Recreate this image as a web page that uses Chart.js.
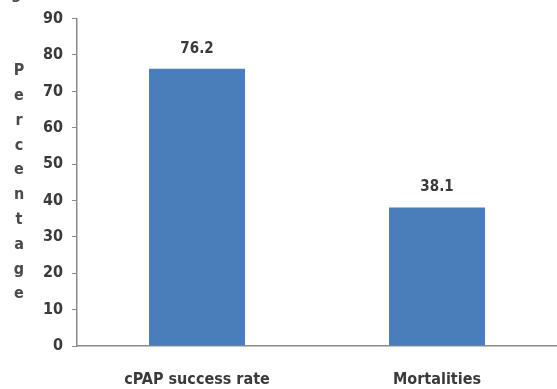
<!DOCTYPE html>
<html>
<head>
<meta charset="utf-8">
<script src="https://cdn.jsdelivr.net/npm/chart.js@4/dist/chart.umd.min.js"></script>
<style>
  html, body { margin: 0; padding: 0; background: #fff; }
  #wrap { width: 557px; height: 389px; }
</style>
</head>
<body>
<div id="wrap"><canvas id="c" width="557" height="389"></canvas></div>
<script>
const categories = ['cPAP success rate', 'Mortalities'];
const percentages = [76.2, 38.1];
const yTicks = [0, 10, 20, 30, 40, 50, 60, 70, 80, 90];
const yTitle = 'Percentage';

const FONT = '"DejaVu Sans Condensed", "Liberation Sans Narrow", "Liberation Sans", Arial, sans-serif';
const TEXT = '#3a3a3a';
const AXIS = '#8a8a8a';

// Value labels above each bar, stacked axis title, and the clipped caption glyph
const overlay = {
  id: 'overlay',
  afterDatasetsDraw(chart) {
    const ctx = chart.ctx;
    const meta = chart.getDatasetMeta(0);
    ctx.save();
    ctx.fillStyle = TEXT;
    ctx.font = 'bold 15px ' + FONT;
    ctx.textAlign = 'center';
    ctx.textBaseline = 'middle';
    meta.data.forEach((bar, i) => {
      ctx.fillText(percentages[i].toFixed(1), bar.x, bar.y - 20);
    });
    ctx.font = 'bold 16px ' + FONT;
    ctx.fillStyle = '#4a4a4a';
    const letters = yTitle.split('');
    letters.forEach((ch, i) => {
      ctx.fillText(ch, 19, 71 + i * 24.8);
    });
    ctx.textAlign = 'left';
    ctx.textBaseline = 'alphabetic';
    ctx.fillText('g', 11, -1);
    ctx.restore();
  }
};

new Chart(document.getElementById('c'), {
  type: 'bar',
  data: {
    labels: categories,
    datasets: [{
      data: percentages,
      backgroundColor: '#4a7ebb',
      borderWidth: 0,
      barPercentage: 0.4,
      categoryPercentage: 1.0
    }]
  },
  options: {
    responsive: false,
    animation: false,
    layout: { padding: { top: 13, right: -5, left: 0, bottom: 0 } },
    plugins: { legend: { display: false }, tooltip: { enabled: false } },
    scales: {
      x: {
        grid: { display: false, drawTicks: false },
        border: { display: true, color: AXIS, width: 1.5 },
        ticks: { color: TEXT, font: { family: FONT, size: 16, weight: 'bold' }, padding: 24 },
        afterFit(scale) { scale.height = 43; }
      },
      y: {
        min: 0,
        max: 90,
        afterBuildTicks(scale) { scale.ticks = yTicks.map(v => ({ value: v })); },
        grid: { drawOnChartArea: false, drawTicks: true, tickLength: 5, color: AXIS },
        border: { display: true, color: AXIS, width: 1.5 },
        ticks: { color: TEXT, font: { family: FONT, size: 16, weight: 'bold' }, padding: 9 },
        afterFit(scale) { scale.width = 77; }
      }
    }
  },
  plugins: [overlay]
});
</script>
</body>
</html>
